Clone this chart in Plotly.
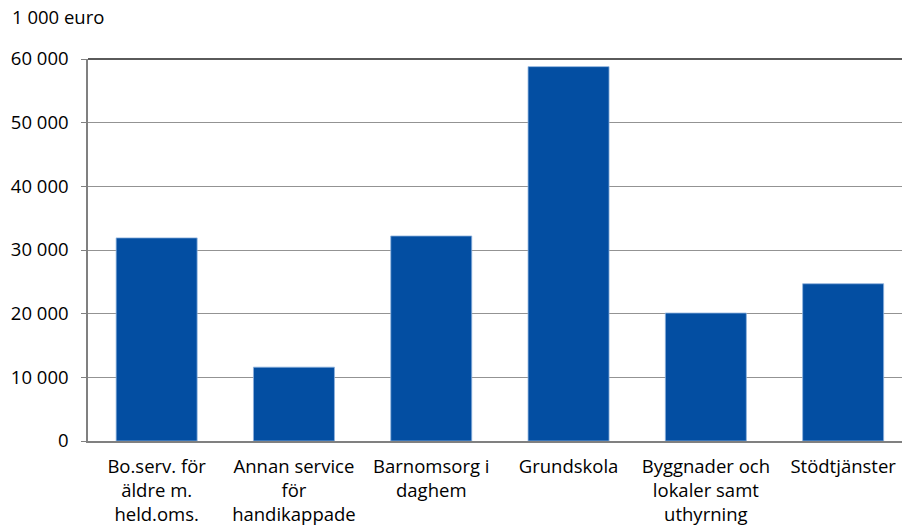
import plotly.graph_objects as go

categories = [
    "Bo.serv. för<br>äldre m.<br>held.oms.",
    "Annan service<br>för<br>handikappade",
    "Barnomsorg i<br>daghem",
    "Grundskola",
    "Byggnader och<br>lokaler samt<br>uthyrning",
    "Stödtjänster",
]
values = [31900, 11600, 32200, 58800, 20100, 24700]
tick_vals = [0, 10000, 20000, 30000, 40000, 50000, 60000]
tick_text = ["0", "10 000", "20 000", "30 000", "40 000", "50 000", "60 000"]
unit_label = "1 000 euro"

FONT = "Open Sans, sans-serif"
FS = 18.5

W, H = 902, 525
L, R, T, B = 88, 0, 59, 84
PITCH = 137.3  # px per category (plot extends past right edge in reference)
plot_w = W - L - R

fig = go.Figure()
fig.add_trace(go.Bar(
    x=categories,
    y=values,
    marker=dict(color="#034EA2", line=dict(color="#8fb3dd", width=0.8)),
    hoverinfo="x+y",
))

fig.update_layout(
    width=W, height=H,
    margin=dict(l=L, r=R, t=T, b=B),
    paper_bgcolor="white",
    plot_bgcolor="white",
    bargap=0.41,
    showlegend=False,
    font=dict(family=FONT, size=FS, color="#000000"),
    title=dict(
        text=unit_label, xref="container", yref="container",
        x=12 / W, y=1 - 18 / H, xanchor="left", yanchor="middle",
        font=dict(family=FONT, size=FS, color="#000000"),
    ),
)
fig.update_yaxes(
    range=[0, 60000],
    tickvals=tick_vals,
    ticktext=tick_text,
    showgrid=True, gridcolor="#939393", gridwidth=1,
    showline=True, linecolor="#808080", linewidth=1.5,
    ticks="outside", ticklen=5, tickcolor="#808080",
    ticklabelstandoff=9,
    zeroline=False,
    automargin=False,
    tickfont=dict(family=FONT, size=FS),
)
fig.update_xaxes(
    range=[-0.5, -0.5 + plot_w / PITCH],
    showline=True, linecolor="#808080", linewidth=1.5,
    showgrid=False, ticks="",
    ticklabelstandoff=8,
    automargin=False,
    tickfont=dict(family=FONT, size=FS),
)
fig.add_shape(type="line", xref="paper", yref="paper", x0=0, x1=1, y0=1, y1=1,
              line=dict(color="#5a5a5a", width=2))

fig.write_html(
    "out.html",
    config={"displayModeBar": False},
    post_script="document.body.style.margin='0';document.body.style.overflow='hidden';",
)
